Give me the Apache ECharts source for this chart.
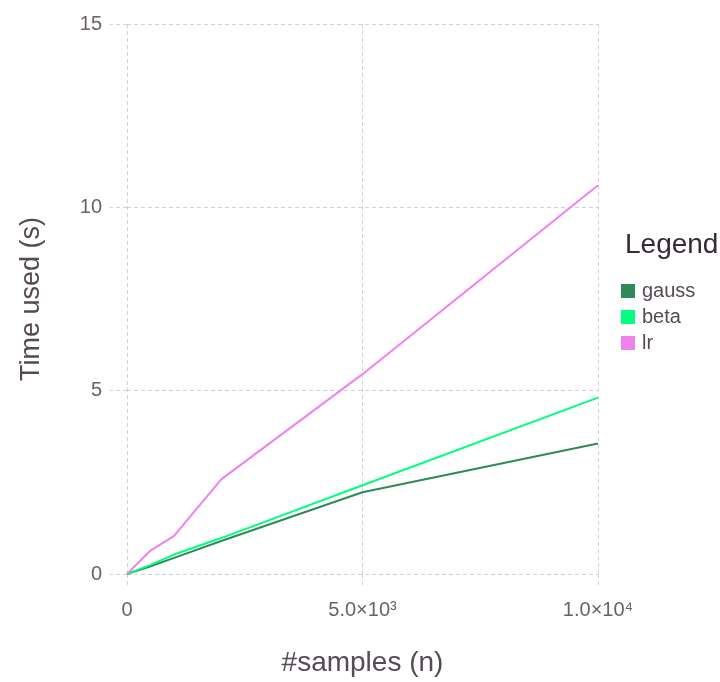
<!DOCTYPE html>
<html>
<head>
<meta charset="utf-8">
<script src="https://cdn.jsdelivr.net/npm/echarts@6/dist/echarts.min.js"></script>
<style>
  html, body { margin: 0; padding: 0; background: #fff; }
  #chart { width: 720px; height: 682px; }
</style>
</head>
<body>
<div id="chart"></div>
<script>
// Sample sizes and timings (seconds)
const samples = [0, 500, 1000, 2000, 5000, 10000];
const gauss = [0, 0.21, 0.44, 0.90, 2.23, 3.56];
const beta  = [0, 0.25, 0.53, 0.98, 2.42, 4.81];
const lr    = [0, 0.64, 1.04, 2.58, 5.45, 10.6];
const seriesNames = ['gauss', 'beta', 'lr'];
const seriesColors = ['#2e8b57', '#00ff7f', '#ee82ee'];
const xTickLabels = { 0: '0', 5000: '5.0×10³', 10000: '1.0×10⁴' };

const FONT = 'Liberation Sans, Arial, Helvetica, sans-serif';
const GRID_COLOR = '#d0d0e0';
const LABEL_COLOR = '#6c606b';
const TITLE_COLOR = '#564a55';

const pairs = (ys) => samples.map((x, i) => [x, ys[i]]);
const allSeries = [gauss, beta, lr];

const dashed = { color: GRID_COLOR, width: 1, type: [4, 3] };

const chart = echarts.init(document.getElementById('chart'), null, { renderer: 'canvas' });
chart.setOption({
  animation: false,
  backgroundColor: '#ffffff',
  textStyle: { fontFamily: FONT },
  grid: { left: 127, right: 122, top: 24, bottom: 105, containLabel: false },
  title: {
    text: 'Legend',
    left: 620, top: 226,
    textStyle: { fontFamily: FONT, fontSize: 28, fontWeight: 'normal', color: '#362a35' }
  },
  legend: {
    data: seriesNames,
    orient: 'vertical',
    left: 616, top: 276,
    icon: 'rect',
    itemWidth: 14, itemHeight: 14,
    itemGap: 6,
    textStyle: { fontFamily: FONT, fontSize: 20, color: TITLE_COLOR, padding: [0, 0, 0, 2] }
  },
  xAxis: [{
    type: 'value',
    min: 0, max: 10000, interval: 5000,
    name: '#samples (n)',
    nameLocation: 'middle',
    nameGap: 75,
    nameTextStyle: { fontFamily: FONT, fontSize: 28, color: TITLE_COLOR },
    axisLine: { show: false },
    axisTick: { show: true, inside: false, length: 13, lineStyle: dashed },
    axisLabel: {
      margin: 26, fontSize: 20, color: LABEL_COLOR, fontFamily: FONT,
      formatter: (v) => xTickLabels[v] !== undefined ? xTickLabels[v] : String(v)
    },
    splitLine: { show: true, lineStyle: dashed }
  }, {
    type: 'value', position: 'top',
    min: 0, max: 10000, interval: 5000,
    axisLine: { show: false },
    axisTick: { show: true, inside: false, length: 15, lineStyle: dashed },
    axisLabel: { show: false },
    splitLine: { show: false }
  }],
  yAxis: [{
    type: 'value',
    min: 0, max: 15, interval: 5,
    name: 'Time used (s)',
    nameLocation: 'middle',
    nameGap: 82,
    nameRotate: 90,
    nameTextStyle: { fontFamily: FONT, fontSize: 27, color: TITLE_COLOR },
    axisLine: { show: false },
    axisTick: { show: true, inside: false, length: 17, lineStyle: dashed },
    axisLabel: { margin: 25, fontSize: 20, color: LABEL_COLOR, fontFamily: FONT },
    splitLine: { show: true, lineStyle: dashed }
  }, {
    type: 'value', position: 'right',
    min: 0, max: 15, interval: 5,
    axisLine: { show: false },
    axisTick: { show: true, inside: false, length: 14, lineStyle: dashed },
    axisLabel: { show: false },
    splitLine: { show: false }
  }],
  series: seriesNames.map((name, i) => ({
    name,
    type: 'line',
    data: pairs(allSeries[i]),
    showSymbol: false,
    symbol: 'none',
    smooth: false,
    color: seriesColors[i],
    lineStyle: { width: 2, color: seriesColors[i] },
    itemStyle: { color: seriesColors[i] }
  }))
});
</script>
</body>
</html>
